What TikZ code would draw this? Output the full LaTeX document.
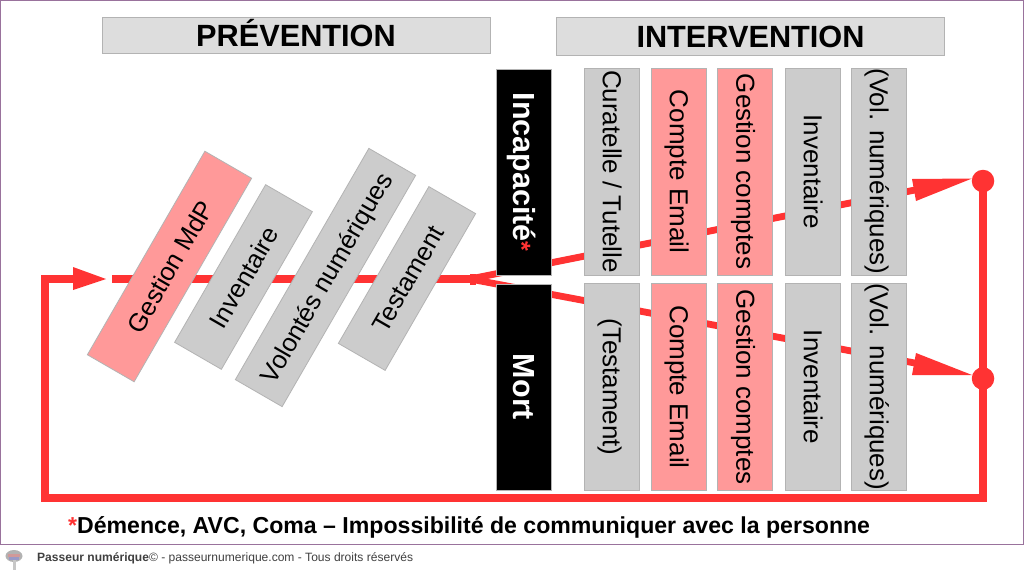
\documentclass[tikz,border=0pt]{standalone}
\usepackage{fontspec}
\setmainfont{Liberation Sans}
\definecolor{lred}{HTML}{FF3333}
\definecolor{pinkb}{HTML}{FF9999}
\definecolor{greyb}{HTML}{CCCCCC}
\definecolor{headb}{HTML}{DDDDDD}
\definecolor{edgeb}{HTML}{B3B3B3}
\definecolor{framec}{HTML}{99729C}
\tikzset{
 box/.style={draw=edgeb,line width=0.8pt,inner sep=0pt,anchor=center,font=\fontsize{26}{26}\selectfont,text=black,text height=17.5pt,text depth=0pt},
 greybox/.style={box,fill=greyb},
 pinkbox/.style={box,fill=pinkb},
 col/.style={minimum width=207pt,minimum height=55pt,rotate=-90},
 tilt/.style={minimum height=54pt,rotate=60,font=\fontsize{25.5}{26}\selectfont,text height=19.5pt},
 blackbox/.style={draw=edgeb,line width=0.6pt,fill=black,text=white,inner sep=0pt,minimum width=206pt,minimum height=55pt,rotate=-90,font=\fontsize{30.5}{30}\selectfont\bfseries,text height=21pt,text depth=0pt},
 head/.style={box,fill=headb,minimum width=388pt,font=\fontsize{30.7}{31}\selectfont\bfseries,text height=23pt,text depth=0pt},
 redl/.style={draw=lred,line width=7.2pt},
 dot/.style={circle,fill=lred,minimum size=22.5pt,inner sep=0pt,draw=none}
}
\begin{document}
\begin{tikzpicture}[x=1pt,y=-1pt]
\useasboundingbox (0,0) rectangle (1024,570);
\fill[white] (0,0) rectangle (1024,570);
\draw[framec,line width=1pt] (0.5,0.5) -- (0.5,544.5) -- (1023.5,544.5) -- (1023.5,0.5) -- cycle;
% connectors under boxes
\node[dot] (c1) at (983,181) {};
\node[dot] (c2) at (983,378.5) {};
\coordinate (hub) at (470,279);
\coordinate (tipA) at (106,279);
\coordinate (startA) at (112,279);
\coordinate (ll) at (45,498);
\coordinate (ul) at (45,279);
\coordinate (lr) at (983,498);
\draw[redl] (c1.center) -- (c2.center);
\draw[redl] (c2.center) -- (lr) -- (ll) -- (ul) -- (74,279);
\fill[lred] (73,267) -- (tipA) -- (73,290) -- cycle;
\draw[redl] (startA) -- (474,279);
\fill[lred] (469.5,273.5) rectangle (476,284.5);
\draw[redl,line width=6.8pt] (hub) -- (920,189);
\draw[redl,line width=6.8pt] (hub) -- (920,364);
\fill[lred] (972,178.5) -- (912,179) -- (916,201) -- cycle;
\fill[lred] (972,375) -- (916,353) -- (912,375) -- cycle;
% headers
\node[head,minimum height=36pt] (hp) at (296,35) {PRÉVENTION};
\node[head,minimum height=38pt] (hi) at (750.5,36) {INTERVENTION};
% tilted
\node[pinkbox,tilt,minimum width=235pt] (t1) at (169.5,266.5) {Gestion MdP};
\node[greybox,tilt,minimum width=182pt] (t2) at (243.5,277) {Inventaire};
\node[greybox,tilt,minimum width=267pt] (t3) at (325.5,277.5) {Volontés numériques};
\node[greybox,tilt,minimum width=181pt] (t4) at (407,278.5) {Testament};
% black
\node[blackbox] (inc) at (523.5,172) {Incapacité\textcolor{lred}{\fontsize{25}{25}\selectfont *}};
\node[blackbox] (mort) at (523.5,387) {Mort};
% columns
\node[greybox,col] (a1) at (611.5,171.5) {Curatelle / Tutelle};
\node[pinkbox,col] (a2) at (678.5,171.5) {Compte Email};
\node[pinkbox,col] (a3) at (745,171.5) {Gestion comptes};
\node[greybox,col] (a4) at (812.5,171.5) {Inventaire};
\node[greybox,col] (a5) at (878.5,171.5) {(Vol. numériques)};
\node[greybox,col] (b1) at (611.5,387) {(Testament)};
\node[pinkbox,col] (b2) at (678.5,387) {Compte Email};
\node[pinkbox,col] (b3) at (745,387) {Gestion comptes};
\node[greybox,col] (b4) at (812.5,387) {Inventaire};
\node[greybox,col] (b5) at (878.5,387) {(Vol. numériques)};
% note
\node[anchor=base west,inner sep=0pt,font=\fontsize{23.1}{23}\selectfont\bfseries] (note) at (68,533) {\textcolor{lred}{*}Démence, AVC, Coma – Impossibilité de communiquer avec la personne};
% footer
\fill[black!22] (12.5,567) rectangle (15.5,570);
\fill[black!30] (14,556) ellipse (8.5pt and 6pt);
\fill[red!55!black!40!white] (8,553.5) rectangle (20,556.5);
\fill[blue!45!black!40!white] (9,556.5) rectangle (19,559.5);
\fill[black!22] (12.5,559.5) rectangle (15.5,567);
\node[anchor=base west,inner sep=0pt,text=black!75,font=\fontsize{12.05}{12}\selectfont] (foot) at (37,561) {\textbf{Passeur numérique}© - passeurnumerique.com - Tous droits réservés};
\end{tikzpicture}
\end{document}
